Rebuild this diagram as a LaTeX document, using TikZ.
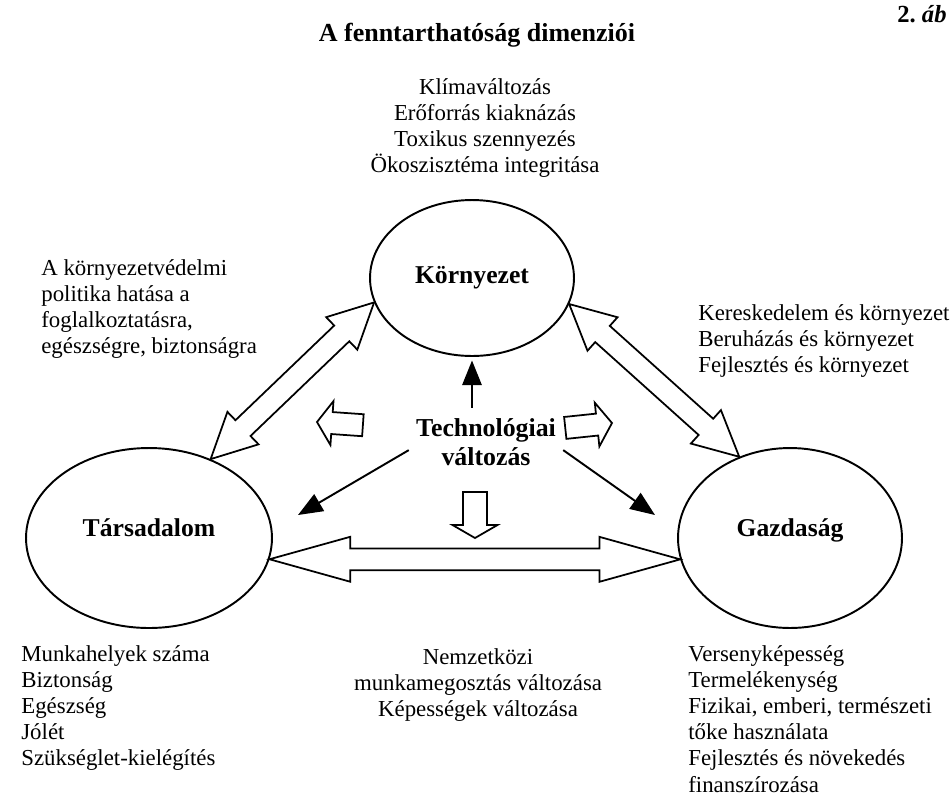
\documentclass[tikz,border=0pt]{standalone}
\usepackage{fontspec}
\setmainfont{Liberation Serif}
\usetikzlibrary{shapes.geometric, calc, arrows.meta}

% hollow double-headed block arrow between two border points
\newcommand{\twowayarrow}[3]{%
  \draw[hollow] (#1)
    -- ($(#1)!#3!(#2)!12.8pt!90:(#2)$)
    -- ($(#1)!#3!(#2)!6.2pt!90:(#2)$)
    -- ($(#2)!#3!(#1)!6.2pt!-90:(#1)$)
    -- ($(#2)!#3!(#1)!12.8pt!-90:(#1)$)
    -- (#2)
    -- ($(#2)!#3!(#1)!12.8pt!90:(#1)$)
    -- ($(#2)!#3!(#1)!6.2pt!90:(#1)$)
    -- ($(#1)!#3!(#2)!6.2pt!-90:(#2)$)
    -- ($(#1)!#3!(#2)!12.8pt!-90:(#2)$)
    -- cycle;
}

\begin{document}
\begin{tikzpicture}[x=0.02cm, y=-0.02cm,
    every node/.style={inner sep=0pt},
    sphere/.style={ellipse, draw, line width=1.1pt, font=\fontsize{14.6}{17}\selectfont\bfseries},
    note/.style={font=\fontsize{13}{14.9}\selectfont},
    thin/.style={-{Triangle[length=14pt,width=11pt]}, line width=1.1pt},
    hollow/.style={line width=1pt, line join=miter}]
  \useasboundingbox (0,0) rectangle (951,796);

  % Nodes
  \node[font=\fontsize{14.8}{17}\selectfont\bfseries] (title) at (477,35) {A fenntarthatóság dimenziói};
  \node[anchor=base west, font=\fontsize{14}{17}\selectfont] (fig) at (897,22) {\textbf{2.}~\textbf{\textit{áb}}};

  \node[sphere, minimum width=4.08cm, minimum height=3.12cm] (env) at (472,278) {Környezet};
  \node[sphere, minimum width=4.92cm, minimum height=3.6cm, text depth=12pt] (soc) at (149,538) {Társadalom};
  \node[sphere, minimum width=4.48cm, minimum height=3.6cm, text depth=12pt] (eco) at (790,538) {Gazdaság};
  \node[inner sep=4pt, align=center, font=\fontsize{14.7}{16.4}\selectfont\bfseries] (tech) at (486,442) {Technológiai\\változás};

  \node[note, align=center] (envlist) at (485,128) {Klímaváltozás\\Erőforrás kiaknázás\\Toxikus szennyezés\\Ökoszisztéma integritása};
  \node[note, align=left, anchor=north west] (policy) at (41,259) {A környezetvédelmi\\politika hatása a\\foglalkoztatásra,\\egészségre, biztonságra};
  \node[note, align=left, anchor=north west] (trade) at (698,304) {Kereskedelem és környezet\\Beruházás és környezet\\Fejlesztés és környezet};
  \node[note, align=left, anchor=north west] (soclist) at (21,645) {Munkahelyek száma\\Biztonság\\Egészség\\Jólét\\Szükséglet-kielégítés};
  \node[note, align=center, anchor=north] (labour) at (478,648) {Nemzetközi\\munkamegosztás változása\\Képességek változása};
  \node[note, align=left, anchor=north west] (ecolist) at (688,645) {Versenyképesség\\Termelékenység\\Fizikai, emberi, természeti\\tőke használata\\Fejlesztés és növekedés\\finanszírozása};

  \coordinate (socend) at (298,515);
  \coordinate (ecoend) at (655,515);

  % block arrows round the centre
  \draw[hollow, shift={(317,422)}, rotate=-4] (0,0) -- (15,-22) -- (15,-11) -- (46,-11) -- (46,11) -- (15,11) -- (15,22) -- cycle;
  \draw[hollow, shift={(612,423)}, rotate=6] (0,0) -- (-15,-22) -- (-15,-11) -- (-47,-11) -- (-47,11) -- (-15,11) -- (-15,22) -- cycle;
  \draw[hollow, shift={(475,538)}] (0,0) -- (-22.5,-13) -- (-12,-13) -- (-12,-46) -- (12,-46) -- (12,-13) -- (22.5,-13) -- cycle;

  % Edges
  \twowayarrow{env.194}{soc.52}{25.5pt}
  \twowayarrow{env.345}{eco.122}{25.5pt}
  \twowayarrow{soc.350}{eco.191}{46pt}

  \draw[thin, shorten >=2pt] ([yshift=2pt]tech.north -| env.south) -- (env.south);
  \draw[thin] (tech.186) -- (socend);
  \draw[thin] (tech.354) -- (ecoend);
\end{tikzpicture}
\end{document}
